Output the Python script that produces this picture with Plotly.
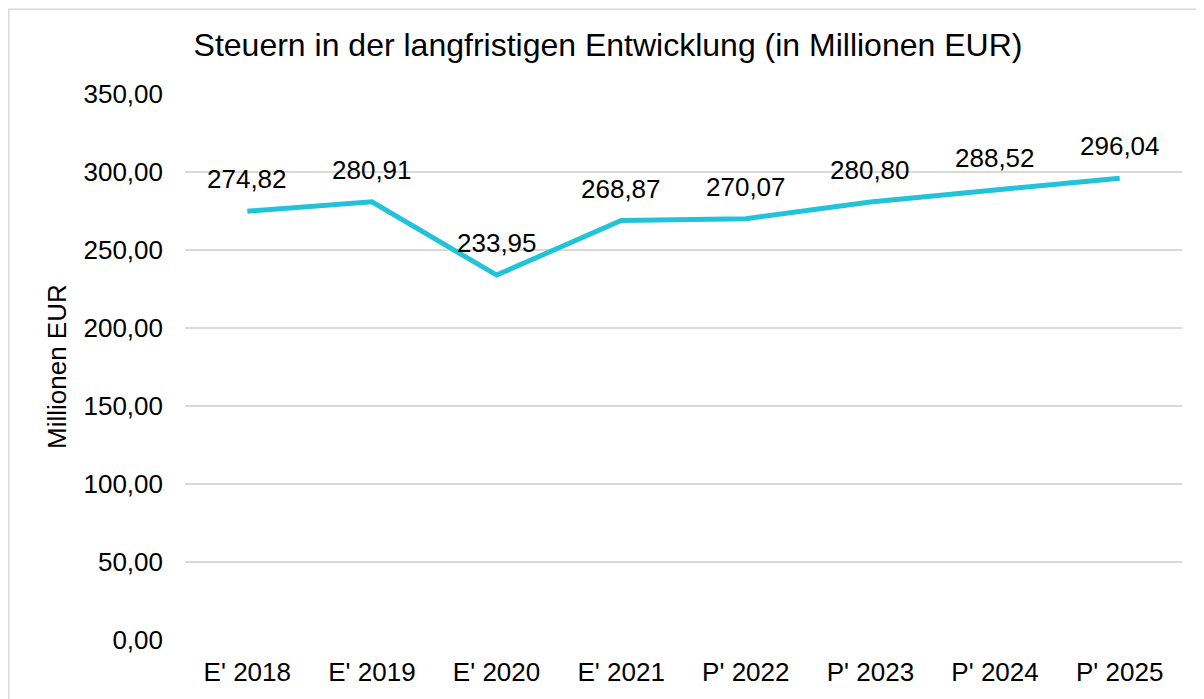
import plotly.graph_objects as go

categories = ["E' 2018", "E' 2019", "E' 2020", "E' 2021", "P' 2022", "P' 2023", "P' 2024", "P' 2025"]
values = [274.82, 280.91, 233.95, 268.87, 270.07, 280.80, 288.52, 296.04]
y_ticks = [0, 50, 100, 150, 200, 250, 300, 350]

FONT = "Arial, Liberation Sans, sans-serif"
OFF = 8  # page body margin offset
W, H = 1204 - OFF, 699 - OFF
# target page coordinates of the plot area
PL, PR, PT, PB = 185, 1182, 94, 643
ML, MT = PL - OFF, PT - OFF
pw = PR - PL
ph = PB - PT
MR = W - ML - pw
MB = H - MT - ph

fig = go.Figure()
fig.add_trace(go.Scatter(
    x=categories, y=values, mode="lines",
    line=dict(color="#22C3D8", width=5),
    hoverinfo="skip", showlegend=False,
))

def fmt(v):
    return f"{v:.2f}".replace(".", ",")

annotations = [
    dict(x=c, y=v, text=fmt(v), showarrow=False, yshift=32,
         font=dict(family=FONT, size=26, color="#000000"),
         xanchor="center", yanchor="middle")
    for c, v in zip(categories, values)
]
annotations.append(dict(
    xref="paper", yref="paper", x=(57 - PL) / pw, y=0.5,
    text="Millionen EUR", textangle=-90, showarrow=False,
    font=dict(family=FONT, size=26, color="#000000"),
    xanchor="center", yanchor="middle",
))

fig.update_layout(
    width=W, height=H,
    margin=dict(l=ML, r=MR, t=MT, b=MB),
    paper_bgcolor="white", plot_bgcolor="white",
    separators=",.",
    title=dict(
        text="Steuern in der langfristigen Entwicklung (in Millionen EUR)",
        x=(608 - OFF) / W, xanchor="center", xref="container",
        y=1 - (45 - OFF) / H, yanchor="middle", yref="container",
        font=dict(family=FONT, size=32, color="#000000"),
    ),
    xaxis=dict(
        type="category", range=[-0.5, len(categories) - 0.5],
        showgrid=False, showline=False, zeroline=False,
        tickfont=dict(family=FONT, size=26, color="#000000"),
        ticks="", ticklabelstandoff=14,
    ),
    yaxis=dict(
        range=[0, 350], tickvals=y_ticks, tickformat=".2f",
        showgrid=True, gridcolor="#D9D9D9", gridwidth=1.5,
        zeroline=False, showline=False, ticks="",
        tickfont=dict(family=FONT, size=26, color="#000000"),
        ticklabelstandoff=21,
    ),
    annotations=annotations,
    shapes=[dict(
        type="rect", xref="paper", yref="paper",
        x0=(OFF + 0.8 - PL) / pw, x1=(1230 - PL) / pw,
        y0=(PB - 740) / ph, y1=(PB - OFF - 0.8) / ph,
        line=dict(color="#D9D9D9", width=1.5), fillcolor="rgba(0,0,0,0)",
        layer="below",
    )],
)

fig.write_html("out.html")
